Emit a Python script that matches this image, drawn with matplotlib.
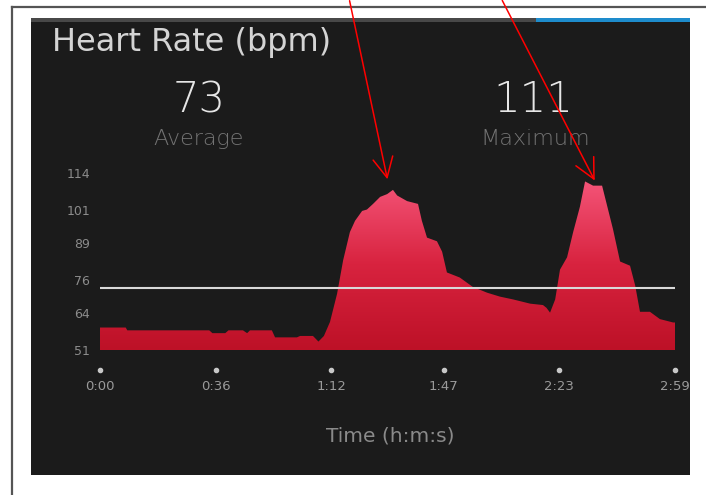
import matplotlib
matplotlib.use("Agg")
import matplotlib.pyplot as plt
import numpy as np
from matplotlib.colors import LinearSegmentedColormap
from matplotlib.patches import Rectangle, FancyArrowPatch
from matplotlib.lines import Line2D

plt.rcParams['font.family'] = ['DejaVu Sans']

# ---- data (seconds, bpm) ----
time_s = [0, 8, 8.5, 34, 35, 39, 40, 44.5, 45.8, 46.7, 53.5, 54.5, 61.3, 62.3, 66.3,
          68, 69.7, 71.6, 73.8, 75.7, 77.8, 79.4, 81.6, 83.1, 85, 87.2, 89.4, 91.2,
          92.5, 95.6, 99, 100.2, 101.8, 104.9, 106.5, 108, 112, 116, 120.5, 124.5,
          128.6, 133.9, 137.9, 139, 140.1, 141.7, 143.2, 145.4, 147.3, 149.4, 151,
          153.5, 156.3, 159.7, 161.9, 165, 166.6, 168.1, 171.2, 174.3, 178.4, 179]
heart_rate = [59, 59, 58, 58, 57, 57, 58, 58, 57, 58, 58, 55.5, 55.5, 56, 56,
              54, 56, 61, 71, 83, 93, 97, 100.5, 101, 103, 105.5, 106.5, 108,
              106, 104, 103, 97, 91, 89.7, 86, 78.6, 76.8, 73.5, 71.4, 70,
              69, 67.5, 67, 66, 64.3, 69, 79.6, 84, 93, 102, 111,
              109.5, 109.5, 94, 82.5, 81, 74, 64.6, 64.6, 62, 60.8, 60.8]
average_bpm = 73
maximum_bpm = 111
y_ticks = [51, 64, 76, 89, 101, 114]
x_ticks = [0, 36, 72, 107, 143, 179]
x_tick_labels = ["0:00", "0:36", "1:12", "1:47", "2:23", "2:59"]

W, H = 706, 495
fig = plt.figure(figsize=(W / 100, H / 100), dpi=100)
fig.patch.set_facecolor("white")

def fx(px):
    return px / W

def fy(py):
    return 1 - py / H

# outer border (top and left)
fig.add_artist(Line2D([fx(12), fx(706)], [fy(7), fy(7)], color="#555555", lw=1.6))
fig.add_artist(Line2D([fx(12), fx(12)], [fy(7), fy(495)], color="#555555", lw=1.6))

# dark panel
panel = Rectangle((fx(31), fy(475)), fx(690) - fx(31), fy(18) - fy(475),
                  transform=fig.transFigure, facecolor="#1b1b1b", edgecolor="none", zorder=0)
fig.add_artist(panel)
fig.add_artist(Rectangle((fx(31), fy(22)), fx(690) - fx(31), fy(18) - fy(22),
                         transform=fig.transFigure, facecolor="#484848", edgecolor="none", zorder=1))
fig.add_artist(Rectangle((fx(536), fy(22)), fx(690) - fx(536), fy(18) - fy(22),
                         transform=fig.transFigure, facecolor="#1e8ccc", edgecolor="none", zorder=1))

# header texts
fig.text(fx(52), fy(43), "Heart Rate (bpm)", color="#d4d4d4", fontsize=23, va="center", ha="left")
fig.text(fx(199), fy(100), f"{average_bpm}", color="#e6e6e6", fontsize=30, va="center", ha="center",
         fontweight="light")
fig.text(fx(199), fy(139), "Average", color="#737373", fontsize=16, va="center", ha="center",
         fontweight="light")
fig.text(fx(533), fy(100), f"{maximum_bpm}", color="#e6e6e6", fontsize=30, va="center", ha="center",
         fontweight="light")
fig.text(fx(535), fy(139), "Maximum", color="#737373", fontsize=16, va="center", ha="center",
         fontweight="light")
fig.text(fx(390), fy(436), "Time (h:m:s)", color="#8a8a8a", fontsize=14.5, va="center", ha="center")

# chart axes: x 0..179 -> px 100..675 ; y 51..114 -> px 350..173
ax = fig.add_axes([fx(100), fy(350), fx(675) - fx(100), fy(173) - fy(350)])
ax.set_facecolor("none")
ax.set_xlim(0, 179)
ax.set_ylim(51, 114)
for s in ax.spines.values():
    s.set_visible(False)

t = np.array(time_s)
hr = np.array(heart_rate)
poly = ax.fill_between(t, 51, hr, facecolor="none", edgecolor="none")
cmap = LinearSegmentedColormap.from_list("hr", ["#bd1127", "#d8233f", "#f5567a"])
grad = np.linspace(0, 1, 256).reshape(-1, 1)
im = ax.imshow(grad, extent=[0, 179, 51, 112], origin="lower", aspect="auto", cmap=cmap,
               interpolation="bilinear", zorder=2)
im.set_clip_path(poly.get_paths()[0], transform=ax.transData)

ax.axhline(average_bpm, xmin=0, xmax=1, color="#d9d9d9", lw=1.5, zorder=3)

ax.set_yticks(y_ticks)
ax.set_yticklabels([str(v) for v in y_ticks])
ax.tick_params(axis="y", length=0, pad=7, labelsize=9, labelcolor="#8c8c8c")

ax.set_xticks(x_ticks)
ax.set_xticklabels(x_tick_labels)
ax.tick_params(axis="x", length=0, pad=21.5, labelsize=9.5, labelcolor="#9a9a9a")

# tick dots below the chart
units_per_px = (114 - 51) / (350 - 173)
ax.plot(x_ticks, [51 - 20 * units_per_px] * len(x_ticks), "o", color="#c8c8c8",
        markersize=3.0, clip_on=False, zorder=3)

for lab in ax.get_xticklabels():
    lab.set_clip_on(True)
    lab.set_clip_path(panel)

# red annotation arrows
for (x0, y0), (x1, y1) in [((349, -2), (388, 182)), ((501, -2), (596, 183))]:
    fig.add_artist(FancyArrowPatch(
        (fx(x0), fy(y0)), (fx(x1), fy(y1)), transform=fig.transFigure,
        arrowstyle="->,head_length=0.8,head_width=0.4", mutation_scale=18,
        color="#ff0000", lw=1.1, zorder=10))

fig.savefig("out.png", dpi=100, facecolor="white")
